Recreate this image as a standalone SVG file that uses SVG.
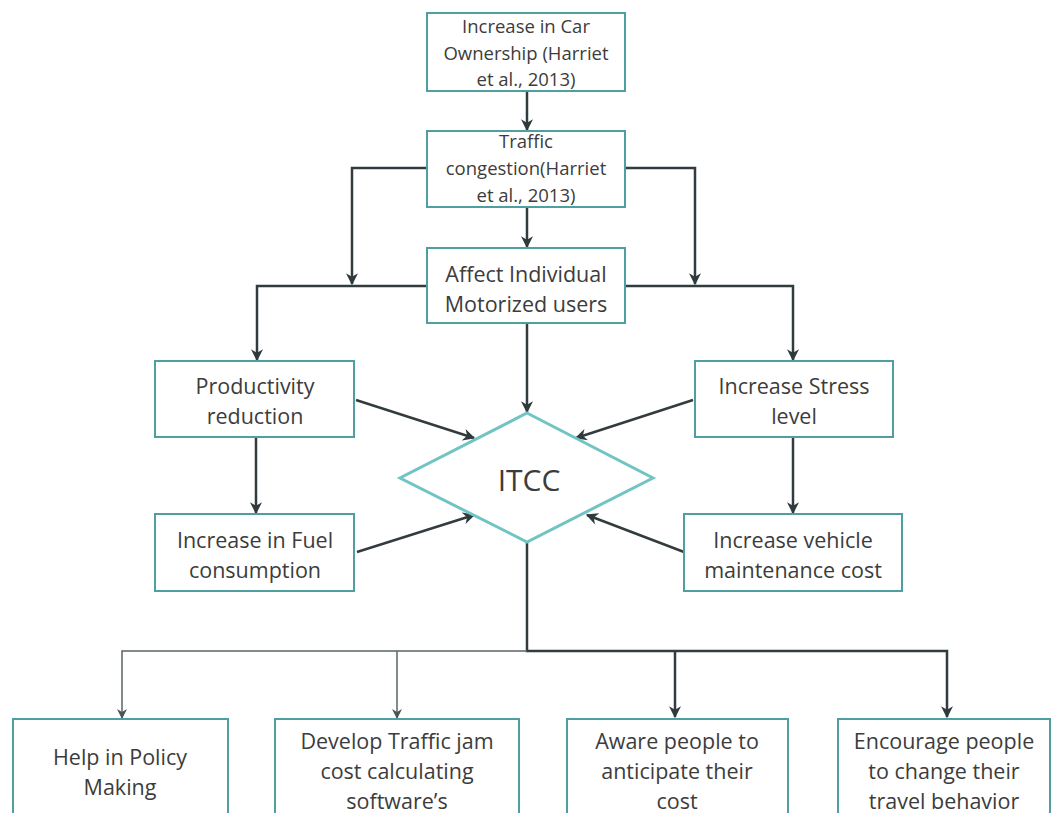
<svg xmlns="http://www.w3.org/2000/svg" width="1052" height="813" viewBox="0 0 1052 813">
<defs>
<marker id="ahL" viewBox="0 0 10 10" refX="9" refY="5" markerWidth="10" markerHeight="10" orient="auto" markerUnits="userSpaceOnUse">
<path d="M0,0 L10,5 L0,10 L3,5 Z" fill="#4a5556"/>
</marker>
<marker id="ahB" viewBox="0 0 10 10" refX="9" refY="5" markerWidth="12" markerHeight="12" orient="auto" markerUnits="userSpaceOnUse">
<path d="M0,0 L10,5 L0,10 L3,5 Z" fill="#2f3a3c"/>
</marker>
<style>
.box{fill:#ffffff;stroke:#4f9ea2;stroke-width:2}
.dia{fill:#ffffff;stroke:#72c4c4;stroke-width:3}
.t{font-family:"Open Sans","Liberation Sans",sans-serif;fill:#3c3c3c;text-anchor:middle;dominant-baseline:central}
.s18{font-size:18.5px}
.s20{font-size:21.5px}
.c{fill:none;stroke:#323c3e;stroke-width:2.5}
.cl{fill:none;stroke:#5a6466;stroke-width:1.5}
</style>
</defs>
<rect width="1052" height="813" fill="#ffffff"/>

<g id="connectors">
<path class="c" d="M527,91 V130" marker-end="url(#ahB)"/>
<path class="c" d="M527,207 V247" marker-end="url(#ahB)"/>
<path class="c" d="M427,168 H352 V284" marker-end="url(#ahB)"/>
<path class="c" d="M625,168 H695 V284" marker-end="url(#ahB)"/>
<path class="c" d="M427,286 H257 V360" marker-end="url(#ahB)"/>
<path class="c" d="M625,286 H793 V360" marker-end="url(#ahB)"/>
<path class="c" d="M527,323 V412" marker-end="url(#ahB)"/>
<path class="c" d="M256,437 V513" marker-end="url(#ahB)"/>
<path class="c" d="M793,437 V513" marker-end="url(#ahB)"/>
<path class="c" d="M356,400 L474,438" marker-end="url(#ahB)"/>
<path class="c" d="M357,552 L474,515" marker-end="url(#ahB)"/>
<path class="c" d="M693,400 L576,438" marker-end="url(#ahB)"/>
<path class="c" d="M684,552 L587,515" marker-end="url(#ahB)"/>
<path class="c" d="M527,542 V651 H947 V717" marker-end="url(#ahB)"/>
<path class="c" d="M675,651 V717" marker-end="url(#ahB)"/>
<path class="cl" d="M527,651 H122 V718" marker-end="url(#ahL)"/>
<path class="cl" d="M397,651 V718" marker-end="url(#ahL)"/>
</g>

<g id="node-car-ownership">
<rect class="box" x="427" y="13" width="198" height="78"/>
<text class="t s18" x="526" y="25">Increase in Car</text>
<text class="t s18" x="526" y="52">Ownership (Harriet</text>
<text class="t s18" x="526" y="78">et al., 2013)</text>
</g>

<g id="node-traffic-congestion">
<rect class="box" x="427" y="131" width="198" height="76"/>
<text class="t s18" x="526" y="140">Traffic</text>
<text class="t s18" x="526" y="167">congestion(Harriet</text>
<text class="t s18" x="526" y="194">et al., 2013)</text>
</g>

<g id="node-affect">
<rect class="box" x="427" y="248" width="198" height="75"/>
<text class="t s20" x="526" y="273">Affect Individual</text>
<text class="t s20" x="526" y="303">Motorized users</text>
</g>

<g id="node-productivity">
<rect class="box" x="155" y="361" width="199" height="76"/>
<text class="t s20" x="255" y="385">Productivity</text>
<text class="t s20" x="255" y="415">reduction</text>
</g>

<g id="node-fuel">
<rect class="box" x="155" y="514" width="199" height="77"/>
<text class="t s20" x="255" y="539">Increase in Fuel</text>
<text class="t s20" x="255" y="569">consumption</text>
</g>

<g id="node-stress">
<rect class="box" x="695" y="361" width="198" height="76"/>
<text class="t s20" x="794" y="385">Increase Stress</text>
<text class="t s20" x="794" y="415">level</text>
</g>

<g id="node-maintenance">
<rect class="box" x="684" y="514" width="218" height="77"/>
<text class="t s20" x="793" y="539">Increase vehicle</text>
<text class="t s20" x="793" y="569">maintenance cost</text>
</g>

<g id="node-itcc">
<polygon class="dia" points="527,413 653,478 527,542 400,478"/>
<text class="t" x="529" y="479" style="font-size:30px">ITCC</text>
</g>

<g id="node-policy">
<rect class="box" x="13" y="719" width="215" height="110"/>
<text class="t s20" x="120" y="756">Help in Policy</text>
<text class="t s20" x="120" y="786">Making</text>
</g>

<g id="node-software">
<rect class="box" x="275" y="719" width="244" height="110"/>
<text class="t s20" x="397" y="740">Develop Traffic jam</text>
<text class="t s20" x="397" y="770">cost calculating</text>
<text class="t s20" x="397" y="800">software’s</text>
</g>

<g id="node-aware">
<rect class="box" x="567" y="719" width="221" height="110"/>
<text class="t s20" x="677" y="740">Aware people to</text>
<text class="t s20" x="677" y="770">anticipate their</text>
<text class="t s20" x="677" y="800">cost</text>
</g>

<g id="node-encourage">
<rect class="box" x="838" y="719" width="212" height="110"/>
<text class="t s20" x="944" y="740">Encourage people</text>
<text class="t s20" x="944" y="770">to change their</text>
<text class="t s20" x="944" y="800">travel behavior</text>
</g>
</svg>
